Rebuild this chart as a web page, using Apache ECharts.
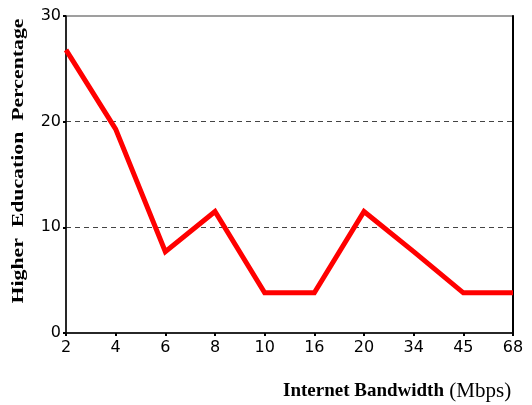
<!DOCTYPE html>
<html><head><meta charset="utf-8">
<script src="https://cdn.jsdelivr.net/npm/echarts@6/dist/echarts.min.js"></script>
<style>html,body{margin:0;padding:0;background:#fff}#c{width:532px;height:405px}</style>
</head><body><div id="c"></div>
<script>
const categories = ['2','4','6','8','10','16','20','34','45','68'];
const values = [26.8, 19.3, 7.7, 11.5, 3.8, 3.8, 11.5, 7.7, 3.8, 3.8];
const yTicks = [0, 10, 20, 30];

const chart = echarts.init(document.getElementById('c'));
chart.setOption({
  animation: false,
  backgroundColor: '#fff',
  grid: { left: 66, right: 19, top: 16, bottom: 72, show: true, borderColor: '#808080', borderWidth: 1.5, backgroundColor: 'transparent' },
  xAxis: {
    type: 'category', data: categories, boundaryGap: false,
    axisLine: { lineStyle: { color: '#000', width: 1.5 } },
    axisTick: { show: true, length: 3, alignWithLabel: true, lineStyle: { color: '#000', width: 2 } },
    axisLabel: { color: '#000', fontFamily: 'DejaVu Sans', fontSize: 16, margin: 7 },
    splitLine: { show: false }
  },
  yAxis: [{
    type: 'value', min: yTicks[0], max: yTicks[yTicks.length - 1], interval: 10,
    axisLine: { show: true, lineStyle: { color: '#000', width: 1.5 } },
    axisTick: { show: true, length: 3, lineStyle: { color: '#000', width: 2 } },
    axisLabel: { color: '#000', fontFamily: 'DejaVu Sans', fontSize: 16, margin: 5 },
    splitLine: { show: true, lineStyle: { color: ['transparent', '#444', '#444', 'transparent'], type: [5, 4], width: 1 } }
  }, {
    type: 'value', position: 'right', min: yTicks[0], max: yTicks[yTicks.length - 1], interval: 10,
    axisLine: { show: true, lineStyle: { color: '#000', width: 2 } },
    axisTick: { show: false }, axisLabel: { show: false }, splitLine: { show: false }
  }],
  series: [{
    type: 'line', data: values, symbol: 'none', yAxisIndex: 0,
    lineStyle: { color: '#ff0000', width: 5, join: 'miter' }
  }],
  graphic: [
    { type: 'text', x: 19, y: 161, rotation: Math.PI / 2, scaleX: 1.28,
      style: { text: 'Higher  Education  Percentage', font: 'bold 17px "Liberation Serif"', fill: '#000', align: 'center', verticalAlign: 'middle' } },
    { type: 'text', x: 283, y: 391,
      style: { text: '{b|Internet Bandwidth} {r|(Mbps)}', fill: '#000', verticalAlign: 'middle',
        rich: { b: { font: 'bold 19px "Liberation Serif"' }, r: { font: '21px "Liberation Serif"', padding: [0,0,0,2] } } } }
  ]
});
</script></body></html>
